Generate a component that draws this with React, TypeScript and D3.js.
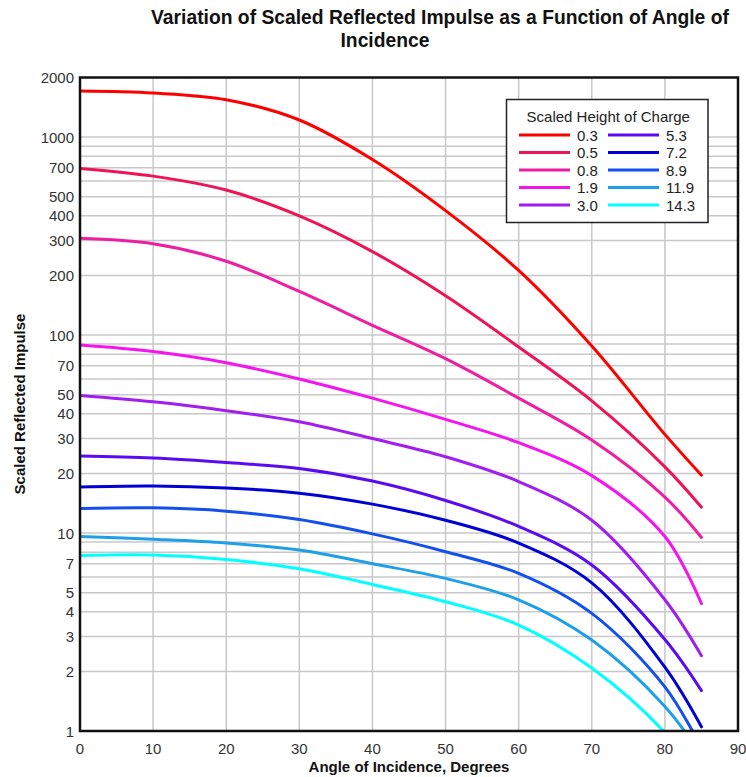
import React from 'react';
import * as d3 from 'd3';

// angle of incidence (degrees) at which values were read
const angles = [0, 10, 20, 30, 40, 50, 60, 70, 80, 85];

// scaled height of charge, one curve each
const heights = ['0.3', '0.5', '0.8', '1.9', '3.0', '5.3', '7.2', '8.9', '11.9', '14.3'];

const h03 = [1710, 1670, 1545, 1220, 770, 425, 212, 88, 31.5, 19.6];
const h05 = [695, 635, 540, 400, 264, 158, 87, 46.5, 21.6, 13.5];
const h08 = [308, 289, 236, 166, 112, 76, 48, 29.5, 15.2, 9.5];
const h19 = [89, 82.5, 72.5, 60, 48, 37.5, 28.6, 19.5, 9.6, 4.4];
const h30 = [49.5, 46, 41.5, 36.5, 30, 24.3, 18.2, 11.6, 4.6, 2.4];
const h53 = [24.5, 23.9, 22.7, 21.2, 18.3, 14.6, 10.8, 6.9, 2.9, 1.6];
const h72 = [17.1, 17.3, 16.9, 15.9, 14.0, 11.6, 8.9, 5.6, 2.1, 1.05];
const h89 = [13.3, 13.4, 12.9, 11.7, 9.9, 8.05, 6.26, 3.93, 1.67, 0.82];
const h119 = [9.6, 9.3, 8.9, 8.2, 7.0, 5.9, 4.6, 2.88, 1.33, 0.75];
const h143 = [7.7, 7.74, 7.35, 6.6, 5.5, 4.5, 3.43, 2.08, 0.98, 0.55];

const series = [h03, h05, h08, h19, h30, h53, h72, h89, h119, h143];

const colors = [
  '#ff0000', '#ee1456', '#ee1ea2', '#f514f0', '#a01ef0',
  '#5a0cf0', '#0000d6', '#1450ee', '#1ea0e8', '#00ffff'
];

const xTicks = [0, 10, 20, 30, 40, 50, 60, 70, 80, 90];
const yLabels = [1, 2, 3, 4, 5, 7, 10, 20, 30, 40, 50, 70, 100, 200, 300, 400, 500, 700, 1000, 2000];

const title1 = 'Variation of Scaled Reflected Impulse as a Function of Angle of';
const title2 = 'Incidence';
const xTitle = 'Angle of Incidence, Degrees';
const yTitle = 'Scaled Reflected Impulse';
const legendTitle = 'Scaled Height of Charge';

const W = 746;
const H = 777;
const left = 80, right = 738, top = 77.5, bottom = 731;
const font = '"Liberation Sans", Arial, sans-serif';

export default function App() {
  const x = d3.scaleLinear().domain([0, 90]).range([left, right]);
  const y = d3.scaleLog().domain([1, 2000]).range([bottom, top]);

  // every 1..9 multiple per decade
  const gridY: number[] = [];
  for (let p = 0; p <= 3; p++) {
    for (let m = 1; m <= 9; m++) {
      const v = m * Math.pow(10, p);
      if (v > 1 && v < 2000) gridY.push(v);
    }
  }

  const line = d3
    .line<number>()
    .x((d, i) => x(angles[i]))
    .y(d => y(d))
    .curve(d3.curveCatmullRom.alpha(0.5));

  const legX = 506.5, legY = 99.5, legW = 201.5, legH = 123;

  return (
    <svg width={W} height={H} style={{ position: 'absolute', left: 0, top: 0 }} fontFamily={font}>
      <defs>
        <clipPath id="plot">
          <rect x={left} y={top} width={right - left} height={bottom - top} />
        </clipPath>
      </defs>
      <rect width={W} height={H} fill="#fff" />

      <text x={440} y={24} textAnchor="middle" fontSize={19.3} fontWeight="bold" fill="#111">{title1}</text>
      <text x={385} y={47} textAnchor="middle" fontSize={19.3} fontWeight="bold" fill="#111">{title2}</text>

      {/* grid */}
      {xTicks.slice(1, -1).map(t => (
        <line key={'gx' + t} x1={x(t)} x2={x(t)} y1={top} y2={bottom} stroke="#c8c8c8" strokeWidth={1.5} />
      ))}
      {gridY.map(v => (
        <line key={'gy' + v} x1={left} x2={right} y1={y(v)} y2={y(v)} stroke="#c8c8c8" strokeWidth={1.5} />
      ))}

      {/* curves */}
      <g clipPath="url(#plot)">
        {series.map((s, i) => (
          <path key={heights[i]} d={line(s) || ''} fill="none" stroke={colors[i]} strokeWidth={3} strokeLinecap="round" />
        ))}
      </g>

      <rect x={left} y={top} width={right - left} height={bottom - top} fill="none" stroke="#111" strokeWidth={2.5} />

      {/* tick labels */}
      {yLabels.map(v => (
        <text key={'yl' + v} x={left - 6} y={y(v) + 5.5} textAnchor="end" fontSize={15} fill="#333">{v}</text>
      ))}
      {xTicks.map(t => (
        <text key={'xl' + t} x={x(t)} y={bottom + 23} textAnchor="middle" fontSize={15} fill="#333">{t}</text>
      ))}

      <text x={(left + right) / 2} y={772} textAnchor="middle" fontSize={15} fontWeight="bold" fill="#111">{xTitle}</text>
      <text transform={`translate(25, 404) rotate(-90)`} textAnchor="middle" fontSize={15} fontWeight="bold" fill="#111">{yTitle}</text>

      {/* legend */}
      <rect x={legX} y={legY} width={legW} height={legH} fill="#fff" stroke="#222" strokeWidth={1.5} />
      <text x={legX + legW / 2 + 1} y={legY + 22} textAnchor="middle" fontSize={15} fill="#222">{legendTitle}</text>
      {heights.map((h, i) => {
        const col = Math.floor(i / 5);
        const row = i % 5;
        const lx = legX + 12.5 + col * 89;
        const ly = legY + 35.5 + row * 17.5;
        return (
          <g key={'lg' + h}>
            <line x1={lx} x2={lx + 51} y1={ly} y2={ly} stroke={colors[i]} strokeWidth={3} />
            <text x={lx + 58} y={ly + 5.5} fontSize={15} fill="#222">{h}</text>
          </g>
        );
      })}
    </svg>
  );
}
